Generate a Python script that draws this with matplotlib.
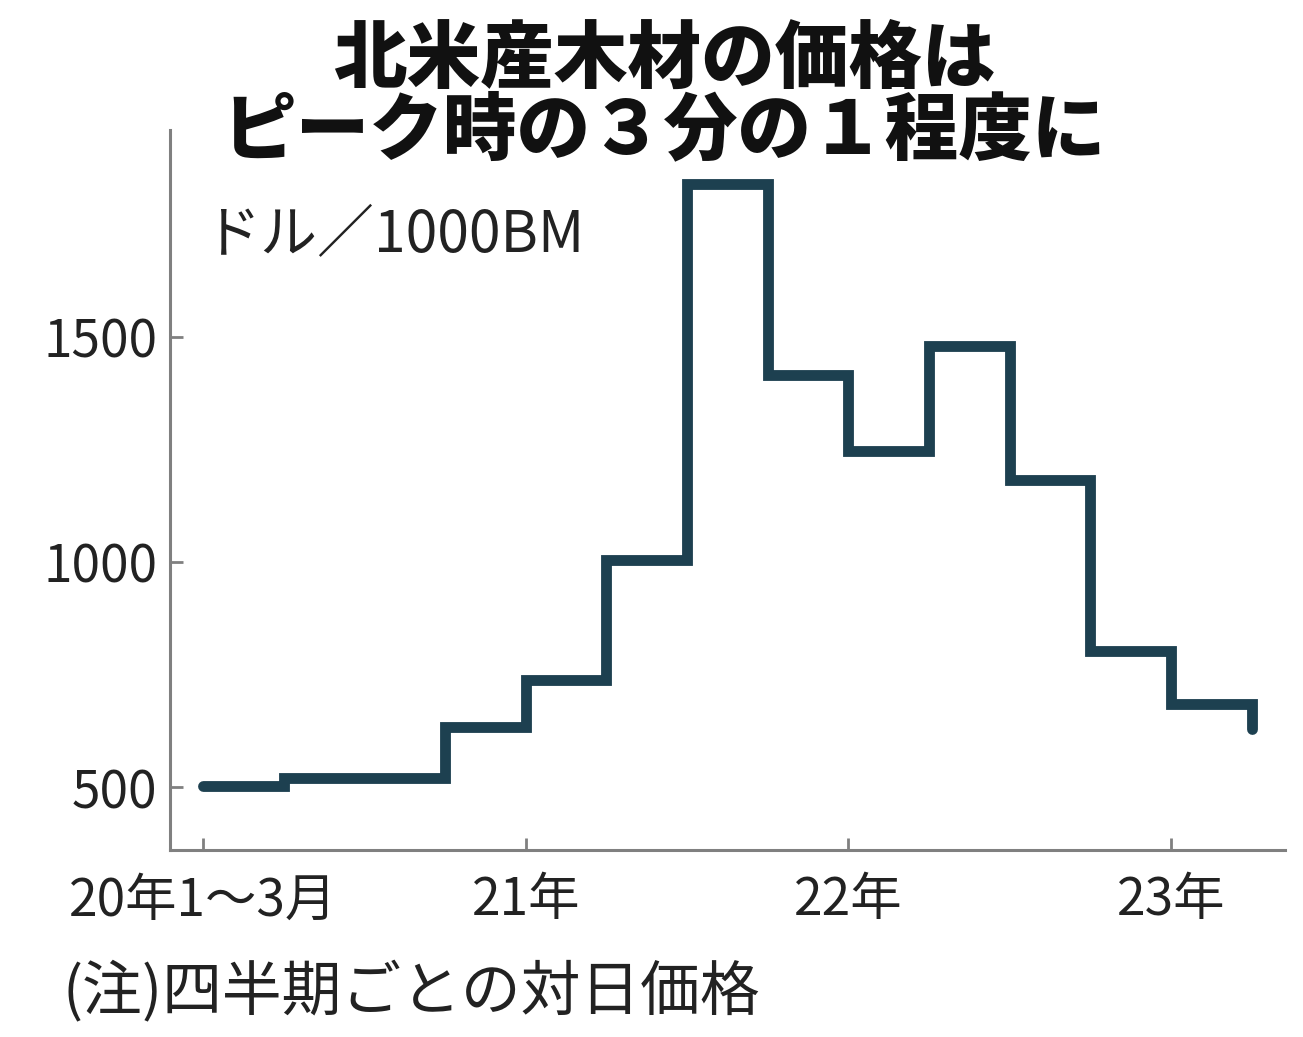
import numpy as np
import matplotlib.pyplot as plt

# quarterly lumber price (USD / 1000 board feet)
quarters = ['2020Q1', '2020Q2', '2020Q3', '2020Q4',
            '2021Q1', '2021Q2', '2021Q3', '2021Q4',
            '2022Q1', '2022Q2', '2022Q3', '2022Q4',
            '2023Q1', '2023Q2']
prices = [503, 520, 520, 635, 739, 1005, 1840, 1415, 1247, 1480, 1182, 802, 686, 630]

tick_quarters = ['2020Q1', '2021Q1', '2022Q1', '2023Q1']
tick_labels = ['20年1～3月', '21年', '22年', '23年']
y_ticks = [500, 1000, 1500]

cjk = 'Noto Sans CJK JP'
plt.rcParams['font.family'] = [cjk, 'DejaVu Sans']

fig = plt.figure(figsize=(13.03, 10.37), dpi=100)
fig.patch.set_facecolor('white')
ax = fig.add_axes([0.1305, 0.180, 0.8555, 0.6946])

x = np.arange(len(quarters))
ax.step(x, prices, where='post', color='#1d4050', linewidth=7.8,
        solid_joinstyle='miter', solid_capstyle='round')

ax.set_xlim(-0.41, 13.41)
ax.set_ylim(360, 1960)

ax.set_xticks([quarters.index(q) for q in tick_quarters])
ax.set_xticklabels(tick_labels)
ax.set_yticks(y_ticks)
ax.set_yticklabels([str(v) for v in y_ticks])

for lab in ax.get_xticklabels() + ax.get_yticklabels():
    lab.set_fontsize(37)
    lab.set_color('#222222')

ax.tick_params(axis='both', direction='in', length=9, width=2, color='#808080')
ax.tick_params(axis='x', pad=17)
ax.tick_params(axis='y', pad=9)

for s in ['top', 'right']:
    ax.spines[s].set_visible(False)
for s in ['left', 'bottom']:
    ax.spines[s].set_color('#808080')
    ax.spines[s].set_linewidth(2.2)

# title
fig.text(0.51, 0.908, '北米産木材の価格は\nピーク時の３分の１程度に', ha='center', va='center',
         fontsize=53, fontweight='heavy', color='#111111', linespacing=0.95)

# unit
fig.text(0.156, 0.773, 'ドル／1000BM', ha='left', va='center', fontsize=41, color='#222222')

# note
fig.text(0.048, 0.042, '(注)四半期ごとの対日価格', ha='left', va='center',
         fontsize=43, color='#222222')

fig.savefig('out.png', dpi=100, facecolor='white')
